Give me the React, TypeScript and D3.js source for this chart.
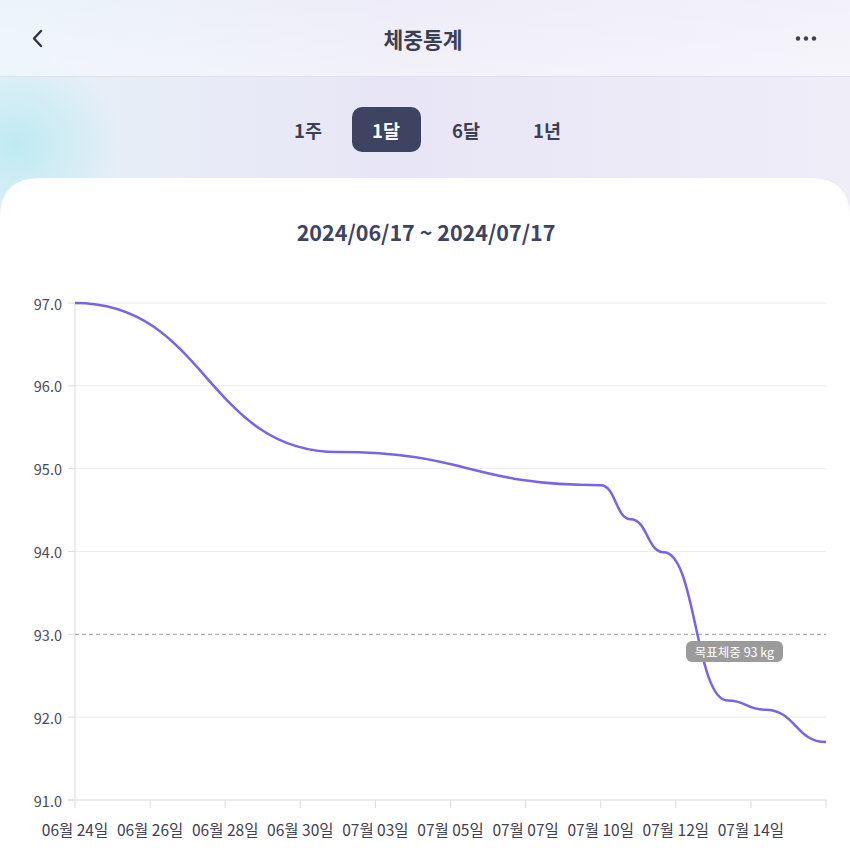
import React from "react";
import * as d3 from "d3";

const xLabels = ["06월 24일", "06월 26일", "06월 28일", "06월 30일", "07월 03일", "07월 05일", "07월 07일", "07월 10일", "07월 12일", "07월 14일"];
const xLabelPos = [0, 2, 4, 6, 8, 10, 12, 14, 16, 18];
const xTickPos = [0, 2, 4, 6, 8, 10, 12, 14, 16, 18, 20];
const pointPos = [0, 7, 14, 14.8, 15.68, 17.38, 18.38, 20];
const weights = [97.0, 95.2, 94.8, 94.39, 93.99, 92.2, 92.09, 91.7];
const yTicks = [91, 92, 93, 94, 95, 96, 97];
const goalWeight = 93;
const tabs = ["1주", "1달", "6달", "1년"];
const tabCenters = [308, 386, 466, 547];
const selectedTab = 1;
const title = "체중통계";
const rangeText = "2024/06/17 ~ 2024/07/17";

const W = 850, H = 853;
const FONT = "'Noto Sans CJK KR', 'Noto Sans', sans-serif";

export default function App() {
  const x = d3.scaleLinear().domain([0, 20]).range([75, 826]);
  const y = d3.scaleLinear().domain([91, 97]).range([800, 303]);
  const data = pointPos.map((p, i) => [p, weights[i]] as [number, number]);
  const line = d3.line<[number, number]>().x(d => x(d[0])).y(d => y(d[1])).curve(d3.curveBumpX);
  const fmt = d3.format(".1f");
  const goalY = y(goalWeight);

  return (
    <svg width={W} height={H} style={{ position: "absolute", left: 0, top: 0, fontFamily: FONT }}>
      <defs>
        <linearGradient id="bg" x1="0" y1="0" x2="1" y2="0">
          <stop offset="0" stopColor="#e6f1f8" />
          <stop offset="0.45" stopColor="#e8e6f6" />
          <stop offset="1" stopColor="#efedf8" />
        </linearGradient>
        <radialGradient id="blob" cx="0.5" cy="0.5" r="0.5">
          <stop offset="0" stopColor="#bfeaf2" stopOpacity="1" />
          <stop offset="1" stopColor="#bfeaf2" stopOpacity="0" />
        </radialGradient>
        <linearGradient id="hdr" x1="0" y1="0" x2="0" y2="1">
          <stop offset="0" stopColor="#ffffff" stopOpacity="0.25" />
          <stop offset="1" stopColor="#ffffff" stopOpacity="0.45" />
        </linearGradient>
      </defs>
      <rect x={0} y={0} width={W} height={H} fill="url(#bg)" />
      <ellipse cx={15} cy={145} rx={110} ry={95} fill="url(#blob)" />
      <rect x={0} y={0} width={W} height={76} fill="url(#hdr)" />
      <line x1={0} x2={W} y1={76.5} y2={76.5} stroke="#e2e0ee" strokeWidth={1} />

      {/* header */}
      <path d="M41 31 L34 38.5 L41 46" fill="none" stroke="#2f3345" strokeWidth={2.4} strokeLinecap="round" strokeLinejoin="round" />
      <text x={423} y={38} textAnchor="middle" dominantBaseline="central" fontSize={21.5} fontWeight={700} fill="#3a3f55">{title}</text>
      {[798, 806, 814].map((cx, i) => <circle key={i} cx={cx} cy={38.5} r={2.2} fill="#3a3f55" />)}

      {/* tabs */}
      <rect x={352} y={107} width={69} height={45} rx={10} fill="#3d4360" />
      {tabs.map((t, i) => (
        <text key={t} x={tabCenters[i]} y={129.5} textAnchor="middle" dominantBaseline="central" fontSize={18.5} fontWeight={700} fill={i === selectedTab ? "#ffffff" : "#3a3f55"}>{t}</text>
      ))}

      {/* card */}
      <path d={`M0 ${178 + 40} Q0 178 40 178 L${W - 40} 178 Q${W} 178 ${W} ${178 + 40} L${W} ${H} L0 ${H} Z`} fill="#ffffff" />
      <text x={426} y={231} textAnchor="middle" dominantBaseline="central" fontSize={21.5} fontWeight={700} fill="#3d4360">{rangeText}</text>

      {/* grid */}
      {yTicks.map(t => (
        <g key={t}>
          {t !== goalWeight && t !== 91 && <line x1={75} x2={826} y1={y(t)} y2={y(t)} stroke="#ececf0" strokeWidth={1} />}
          <line x1={68} x2={75} y1={y(t)} y2={y(t)} stroke="#dcdce2" strokeWidth={1} />
          <text x={62} y={y(t)} textAnchor="end" dominantBaseline="central" fontSize={14.5} fill="#4a4a55">{fmt(t)}</text>
        </g>
      ))}
      <line x1={75} x2={75} y1={303} y2={800} stroke="#dcdce2" strokeWidth={1} />
      <line x1={68} x2={826} y1={800} y2={800} stroke="#dcdce2" strokeWidth={1.2} />
      {xTickPos.map(p => <line key={p} x1={x(p)} x2={x(p)} y1={800} y2={808} stroke="#dcdce2" strokeWidth={1} />)}
      {xLabels.map((l, i) => (
        <text key={l} x={x(xLabelPos[i])} y={829} textAnchor="middle" dominantBaseline="central" fontSize={15.5} fill="#3f4050">{l}</text>
      ))}

      {/* goal line */}
      <line x1={75} x2={826} y1={goalY} y2={goalY} stroke="#9a9aa2" strokeWidth={1} strokeDasharray="4 3" />

      {/* data line */}
      <path d={line(data) || ""} fill="none" stroke="#7b62e6" strokeWidth={2.5} />

      {/* goal label */}
      <rect x={686} y={641} width={97} height={21} rx={6} fill="#9b9b9b" />
      <text x={734.5} y={651.5} textAnchor="middle" dominantBaseline="central" fontSize={12.5} fill="#ffffff">목표체중 {goalWeight} kg</text>
    </svg>
  );
}
